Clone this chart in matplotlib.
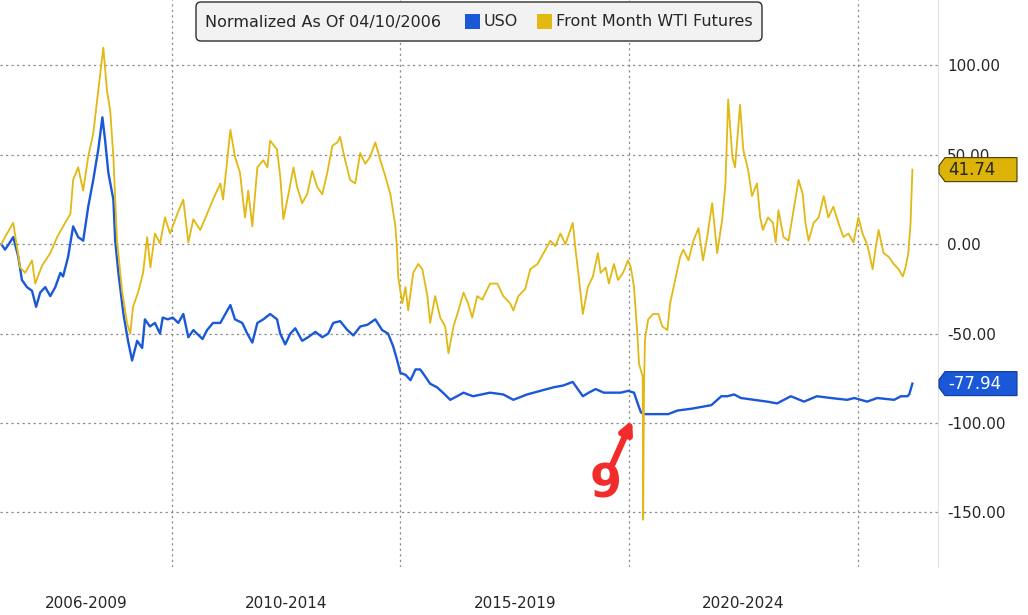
import matplotlib
matplotlib.use("Agg")
import matplotlib.pyplot as plt
from matplotlib.patches import Polygon, FancyBboxPatch, Rectangle
import matplotlib.transforms as mtransforms

# ---------------- data ----------------
wti_years = [2006.27, 2006.35, 2006.53, 2006.68, 2006.79, 2006.94, 2007.01, 2007.16, 2007.34, 2007.49,
             2007.62, 2007.78, 2007.84, 2007.95, 2008.06, 2008.17, 2008.28, 2008.39, 2008.50, 2008.58,
             2008.65, 2008.72, 2008.80, 2008.91, 2009.02, 2009.09, 2009.15, 2009.26, 2009.37, 2009.46,
             2009.53, 2009.63, 2009.74, 2009.85, 2009.96, 2010.12, 2010.25, 2010.36, 2010.47, 2010.62,
             2010.77, 2010.90, 2011.06, 2011.12, 2011.28, 2011.38, 2011.49, 2011.60, 2011.67, 2011.76,
             2011.87, 2012.00, 2012.09, 2012.15, 2012.30, 2012.37, 2012.44, 2012.55, 2012.66, 2012.74,
             2012.85, 2012.96, 2013.07, 2013.18, 2013.29, 2013.40, 2013.51, 2013.62, 2013.68, 2013.79,
             2013.90, 2014.01, 2014.12, 2014.23, 2014.34, 2014.45, 2014.56, 2014.67, 2014.78, 2014.89,
             2014.93, 2014.95, 2015.04, 2015.11, 2015.17, 2015.28, 2015.39, 2015.48, 2015.59, 2015.65,
             2015.76, 2015.87, 2015.98, 2016.05, 2016.16, 2016.27, 2016.38, 2016.48, 2016.57, 2016.68,
             2016.79, 2016.96, 2017.12, 2017.25, 2017.40, 2017.47, 2017.58, 2017.73, 2017.84, 2018.00,
             2018.13, 2018.28, 2018.39, 2018.50, 2018.61, 2018.77, 2018.83, 2018.90, 2018.99, 2019.10,
             2019.21, 2019.32, 2019.38, 2019.49, 2019.56, 2019.67, 2019.76, 2019.87, 2019.98, 2020.04,
             2020.11, 2020.19, 2020.22, 2020.30, 2020.31, 2020.33, 2020.35, 2020.42, 2020.53, 2020.64,
             2020.73, 2020.84, 2020.90, 2021.01, 2021.12, 2021.19, 2021.30, 2021.41, 2021.52, 2021.62,
             2021.71, 2021.82, 2021.93, 2022.04, 2022.11, 2022.17, 2022.26, 2022.32, 2022.43, 2022.50,
             2022.61, 2022.69, 2022.80, 2022.87, 2022.93, 2023.04, 2023.15, 2023.21, 2023.27, 2023.38,
             2023.49, 2023.60, 2023.71, 2023.80, 2023.86, 2023.93, 2024.04, 2024.15, 2024.26, 2024.36,
             2024.47, 2024.58, 2024.69, 2024.80, 2024.91, 2025.02, 2025.11, 2025.22, 2025.33, 2025.39,
             2025.46, 2025.57, 2025.68, 2025.79, 2025.90, 2025.99, 2026.05, 2026.11, 2026.16, 2026.20]
wti_values = [0, 4, 12, -13, -16, -9, -22, -12, -5, 4,
              10, 17, 36, 43, 30, 49, 62, 86, 110, 86,
              75, 49, 2, -26, -44, -50, -35, -27, -16, 4,
              -13, 6, 0.5, 15, 6, 17, 25, 1, 14, 8,
              17, 25, 34, 25, 64, 49, 40, 15, 30, 10,
              43, 47, 43, 58, 53, 38, 14, 28, 43, 32,
              23, 28, 41, 32, 28, 40, 55, 57, 60, 47,
              36, 34, 51, 45, 49, 57, 47, 38, 28, 10,
              -5, -18, -33, -24, -37, -16, -11, -14, -29, -44,
              -29, -41, -46, -61, -46, -37, -27, -33, -41, -29,
              -31, -22, -22, -29, -33, -37, -29, -25, -14, -11,
              -5, 2, -1, 6, 0, 12, -3, -18, -39, -24,
              -18, -5, -16, -13, -22, -11, -20, -16, -9, -13,
              -24, -53, -67, -74, -154, -78, -53, -42, -39, -39,
              -46, -48, -33, -20, -7, -3, -9, 2, 9, -9,
              4, 23, -5, 14, 34, 81, 49, 43, 78, 53,
              41, 27, 34, 15, 8, 15, 12, 1, 19, 4,
              2, 19, 36, 28, 12, 2, 12, 15, 27, 15,
              21, 12, 4, 6, 1, 15, 6, -1, -14, -3,
              8, -5, -7, -11, -14, -18, -13, -5, 12, 41.74]

uso_years = [2006.27, 2006.35, 2006.43, 2006.53, 2006.64, 2006.72, 2006.83, 2006.94, 2007.03, 2007.12,
             2007.23, 2007.34, 2007.45, 2007.56, 2007.62, 2007.73, 2007.84, 2007.95, 2008.06, 2008.17,
             2008.28, 2008.39, 2008.48, 2008.54, 2008.61, 2008.72, 2008.76, 2008.83, 2008.94, 2009.04,
             2009.13, 2009.24, 2009.35, 2009.41, 2009.52, 2009.63, 2009.74, 2009.80, 2009.91, 2010.02,
             2010.14, 2010.25, 2010.36, 2010.47, 2010.67, 2010.77, 2010.90, 2011.06, 2011.17, 2011.28,
             2011.38, 2011.54, 2011.65, 2011.76, 2011.87, 2012.00, 2012.15, 2012.30, 2012.37, 2012.48,
             2012.59, 2012.70, 2012.85, 2012.98, 2013.14, 2013.29, 2013.42, 2013.53, 2013.68, 2013.84,
             2013.97, 2014.12, 2014.28, 2014.45, 2014.60, 2014.73, 2014.84, 2014.93, 2015.00, 2015.11,
             2015.22, 2015.33, 2015.43, 2015.49, 2015.65, 2015.80, 2015.93, 2016.09, 2016.24, 2016.38,
             2016.48, 2016.59, 2016.96, 2017.25, 2017.47, 2017.77, 2018.06, 2018.35, 2018.56, 2018.77,
             2018.88, 2018.99, 2019.12, 2019.27, 2019.45, 2019.67, 2019.82, 2019.98, 2020.11, 2020.19,
             2020.26, 2020.33, 2020.42, 2020.70, 2020.86, 2021.06, 2021.36, 2021.58, 2021.80, 2022.02,
             2022.15, 2022.30, 2022.45, 2022.74, 2023.02, 2023.24, 2023.54, 2023.83, 2024.11, 2024.42,
             2024.77, 2024.93, 2025.21, 2025.43, 2025.80, 2025.95, 2026.09, 2026.13, 2026.20]
uso_values = [0, -3, 0, 4, -7, -20, -24, -26, -35, -27,
              -24, -29, -24, -16, -18, -7, 10, 4, 2, 21,
              36, 53, 71, 58, 40, 25, 2, -16, -39, -54,
              -65, -54, -58, -42, -46, -44, -50, -41, -42, -41,
              -44, -39, -52, -48, -53, -48, -44, -44, -39, -34,
              -42, -44, -50, -55, -44, -42, -39, -42, -50, -56,
              -50, -47, -54, -52, -49, -52, -50, -44, -43, -48,
              -51, -46, -45, -42, -48, -50, -57, -65, -72, -73,
              -76, -70, -70, -72, -78, -80, -83, -87, -85, -83,
              -84, -85, -83, -84, -87, -84, -82, -80, -79, -77,
              -81, -85, -83, -81, -83, -83, -83, -82, -83, -89,
              -94, -95, -95, -95, -95, -93, -92, -91, -90, -85,
              -85, -84, -86, -87, -88, -89, -85, -88, -85, -86,
              -87, -86, -88, -86, -87, -85, -85, -84, -77.94]

y_ticks = [100, 50, 0, -50, -100, -150]
y_tick_labels = ["100.00", "50.00", "0.00", "-50.00", "-100.00", "-150.00"]
period_bounds = [2006.24, 2010, 2015, 2020, 2025]
period_labels = ["2006-2009", "2010-2014", "2015-2019", "2020-2024"]
legend_title = "Normalized As Of 04/10/2006"
series_names = ["USO", "Front Month WTI Futures"]
last_uso = "-77.94"
last_wti = "41.74"
note_text = "9"

# ---------------- style ----------------
BLUE = "#1A58D8"
GOLD = "#E2B812"
TAG_GOLD = "#DDB308"
RED = "#F22B2B"
TXT = "#262626"
GRID = "#8C8C8C"

W, H = 1028, 615
fig = plt.figure(figsize=(W / 100, H / 100), dpi=100)
fig.patch.set_facecolor("white")
ax = fig.add_axes([0, 48 / H, 938 / W, 567 / H])
ax.set_facecolor("white")

ax.plot(uso_years, uso_values, color=BLUE, lw=1.7, zorder=3, solid_joinstyle="round")
ax.plot(wti_years, wti_values, color=GOLD, lw=1.3, zorder=4, solid_joinstyle="round")

ax.set_xlim(2006.24, 2026.76)
ax.set_ylim(-180.5, 136.6)

# grid / ticks
ax.set_xticks(period_bounds[1:])
ax.set_xticklabels([])
mids = [(a + b) / 2 for a, b in zip(period_bounds[:-1], period_bounds[1:])]
ax.set_xticks(mids, minor=True)
ax.set_xticklabels(period_labels, minor=True)
ax.tick_params(axis="x", which="both", length=0)
ax.tick_params(axis="x", which="minor", pad=21, labelsize=11, labelcolor=TXT)

ax.yaxis.tick_right()
ax.set_yticks(y_ticks)
ax.set_yticklabels(y_tick_labels)
ax.tick_params(axis="y", length=0, pad=6.5, labelsize=11, labelcolor=TXT)
for lbl in ax.get_yticklabels():
    lbl.set_horizontalalignment("left")

ax.grid(True, which="major", linestyle=(0, (1.8, 2.6)), color=GRID, lw=0.9, zorder=1)

for s in ["top", "left", "bottom"]:
    ax.spines[s].set_visible(False)
ax.spines["right"].set_color("#e2e2e2")
ax.spines["right"].set_linewidth(0.8)

# last-value tags
tr = mtransforms.blended_transform_factory(ax.transAxes, ax.transData)
px = 1 / 938.0
half = 12.0 / 1.788
notch = 4.0 / 1.788
for val_s, fc, ec, tc in [(last_wti, TAG_GOLD, "#4a3d00", TXT), (last_uso, BLUE, "#0d3a99", "white")]:
    v = float(val_s)
    pts = [(939 * px, v + notch), (945 * px, v + half), (1017 * px, v + half),
           (1017 * px, v - half), (945 * px, v - half), (939 * px, v - notch)]
    poly = Polygon(pts, closed=True, transform=tr, facecolor=fc, edgecolor=ec, lw=0.8,
                   clip_on=False, zorder=10)
    ax.add_patch(poly)
    ax.text(948 * px, v, val_s, transform=tr, ha="left", va="center", fontsize=12,
            color=tc, zorder=11, clip_on=False)

# red annotation
ax.annotate("", xy=(2020.07, -98.3), xytext=(2019.64, -123.0),
            arrowprops=dict(arrowstyle="-|>", color=RED, lw=4.5, mutation_scale=17,
                            shrinkA=0, shrinkB=0), zorder=12)
ax.text(2019.48, -134.6, note_text, ha="center", va="center", fontsize=33,
        fontweight="heavy", color=RED, zorder=12)

# legend (manual, in pixel coordinates)
ptr = fig.dpi_scale_trans
def P(x, y):
    return (x / 100.0, (H - y) / 100.0)

box = FancyBboxPatch(P(196, 41), 5.66, 0.39, boxstyle="round,pad=0,rounding_size=0.05",
                     transform=ptr, facecolor="#f2f2f2", edgecolor="#2e2e2e", lw=1.0, zorder=20)
fig.patches.append(box)
fig.text(*P(205, 22), legend_title, transform=ptr, ha="left", va="center",
         fontsize=11.5, color=TXT, zorder=21)
fig.patches.append(Rectangle(P(465, 29), 0.15, 0.15, transform=ptr, facecolor=BLUE,
                             edgecolor="none", zorder=21))
fig.text(*P(484, 22), series_names[0], transform=ptr, ha="left", va="center",
         fontsize=11.5, color=TXT, zorder=21)
fig.patches.append(Rectangle(P(537, 29), 0.15, 0.15, transform=ptr, facecolor=GOLD,
                             edgecolor="none", zorder=21))
fig.text(*P(556, 22), series_names[1], transform=ptr, ha="left", va="center",
         fontsize=11.5, color=TXT, zorder=21)

fig.savefig("out.png", dpi=100, facecolor="white")
